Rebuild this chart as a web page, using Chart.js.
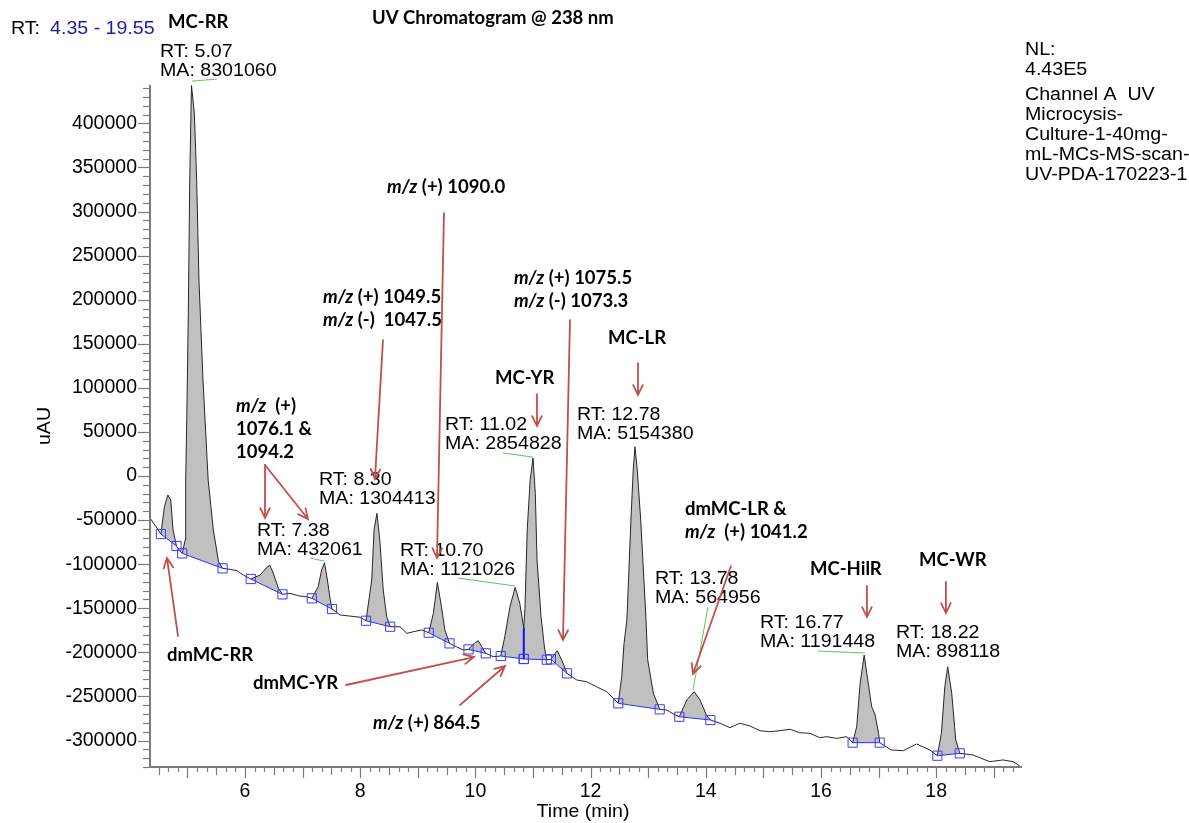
<!DOCTYPE html>
<html>
<head>
<meta charset="utf-8">
<title>UV Chromatogram @ 238 nm</title>
<script src="https://cdn.jsdelivr.net/npm/chart.js@4.4.1/dist/chart.umd.min.js"></script>
<style>
  html, body { margin: 0; padding: 0; background: #fff; }
  #wrap { width: 1189px; height: 823px; position: relative; }
</style>
</head>
<body>
<div id="wrap"><canvas id="chromChart"></canvas></div>
<script>
// UV trace (time in min, signal in uAU)
const timeMin = [4.35, 4.45, 4.54, 4.60, 4.66, 4.71, 4.75, 4.81, 4.86, 4.91,
  4.96, 4.97, 4.99, 5.015, 5.04, 5.07, 5.12, 5.16, 5.20, 5.27,
  5.36, 5.45, 5.54, 5.61, 5.74, 5.86, 5.97, 6.10, 6.26, 6.38,
  6.43, 6.49, 6.58, 6.65, 6.78, 6.95, 7.07, 7.16, 7.27, 7.33,
  7.38, 7.43, 7.48, 7.51, 7.65, 7.82, 8.00, 8.10, 8.20, 8.24,
  8.29, 8.34, 8.40, 8.46, 8.52, 8.69, 8.81, 8.92, 9.07, 9.19,
  9.27, 9.34, 9.41, 9.47, 9.55, 9.67, 9.79, 9.88, 9.99, 10.05,
  10.11, 10.18, 10.31, 10.44, 10.51, 10.60, 10.69, 10.77, 10.84, 10.86,
  10.90, 10.95, 11.00, 11.04, 11.07, 11.14, 11.20, 11.24, 11.31, 11.42,
  11.50, 11.59, 11.76, 11.93, 12.10, 12.28, 12.48, 12.54, 12.58, 12.63,
  12.70, 12.74, 12.77, 12.81, 12.87, 12.96, 12.99, 13.09, 13.20, 13.32,
  13.44, 13.54, 13.67, 13.80, 13.90, 14.01, 14.08, 14.25, 14.42, 14.59,
  14.77, 14.94, 15.11, 15.29, 15.46, 15.63, 15.81, 15.98, 16.10, 16.27,
  16.45, 16.55, 16.62, 16.68, 16.75, 16.82, 16.88, 16.94, 17.00, 17.02,
  17.22, 17.43, 17.66, 17.89, 18.02, 18.09, 18.15, 18.20, 18.27, 18.34,
  18.41, 18.64, 18.93, 19.16, 19.34, 19.48];
const signal = [-47600, -57000, -65800, -34800, -21500, -27200, -61200, -79400, -84000, -87700,
  -72600, -4500, 71100, 184800, 335700, 443000, 411600, 335700, 222300, 108900,
  -4500, -61200, -97200, -104700, -105800, -107400, -112300, -116800, -112300, -103500,
  -101000, -110300, -127400, -134200, -133000, -136100, -136900, -138700, -125500, -106600,
  -98300, -117900, -140600, -150800, -157600, -158800, -160200, -164100, -117900, -61200,
  -42300, -72600, -129300, -159600, -170900, -170900, -178400, -176600, -174600, -177700,
  -155700, -120600, -148200, -174600, -189800, -193600, -197300, -196600, -189000, -186800,
  -193600, -201100, -204900, -204100, -182200, -148200, -126200, -144400, -172400, -150000,
  -60000, -5000, 20500, -20000, -95000, -160000, -195000, -208300, -207900, -198100,
  -208700, -223800, -231300, -233300, -238900, -244600, -257800, -227600, -190000, -163300,
  -49900, 6800, 33200, 6800, -49900, -160000, -208000, -246400, -264600, -265400,
  -269900, -273000, -254000, -244600, -254000, -271000, -276700, -280400, -285400, -280400,
  -283500, -288800, -290000, -288800, -287200, -291100, -291800, -296800, -295600, -297500,
  -295600, -302400, -284300, -235100, -203000, -235100, -261600, -271000, -291800, -302400,
  -310700, -311500, -303900, -310700, -317200, -291800, -239000, -216300, -246400, -299400,
  -314500, -316400, -324000, -322000, -324000, -330300];

// integration baselines (start / end of each integrated peak)
const baseStartMin = [4.54, 4.91, 6.10, 7.16, 8.10, 9.19, 9.88, 10.44, 10.84, 11.31, 12.48, 13.54, 16.55, 18.02];
const baseStartY = [-65800, -87700, -116800, -138700, -164100, -177700, -196600, -204100, -207500, -207900, -257800, -273000, -302400, -317200];
const baseEndMin = [4.81, 5.61, 6.65, 7.51, 8.52, 9.55, 10.18, 10.84, 11.24, 11.59, 13.20, 14.08, 17.02, 18.41];
const baseEndY = [-79400, -104700, -134200, -150800, -170900, -189800, -201100, -207500, -208300, -223800, -264600, -276700, -302400, -314500];

// drop line between the 10.70 and 11.02 peaks
const dropMin = [10.84, 10.84];
const dropY = [-207500, -172400];

const xTicks = [6, 8, 10, 12, 14, 16, 18];
const yTicks = [-300000, -250000, -200000, -150000, -100000, -50000, 0,
  50000, 100000, 150000, 200000, 250000, 300000, 350000, 400000];

// peak labels
const peakRT = ['5.07', '7.38', '8.30', '10.70', '11.02', '12.78', '13.78', '16.77', '18.22'];
const peakMA = ['8301060', '432061', '1304413', '1121026', '2854828', '5154380', '564956', '1191448', '898118'];

const compoundNames = ['MC-RR', 'MC-YR', 'MC-LR', 'MC-HilR', 'MC-WR', 'dmMC-RR', 'dmMC-YR'];
const massNotes = [
  ['*m/z* (+) 1090.0'],
  ['*m/z* (+) 1049.5', '*m/z* (-)  1047.5'],
  ['*m/z* (+) 1075.5', '*m/z* (-) 1073.3'],
  ['*m/z*  (+)', '1076.1 &', '1094.2'],
  ['dmMC-LR &', '*m/z*  (+) 1041.2'],
  ['*m/z* (+) 864.5']
];

// where the labels sit (time, uAU)
const peakLabelAt = [[4.524, 480800], [6.208, -62400], [7.284, -4500], [8.69, -85100], [9.472, 57800],
  [11.763, 69200], [13.117, -116800], [14.941, -166700], [17.302, -178000]];
const nameAt = [[4.663, 514800], [10.339, 111100], [12.301, 156500], [15.808, -105500], [17.701, -95300],
  [4.645, -203000], [6.138, -234700]];
const noteAt = [[8.465, 327700], [7.353, 203000], [10.669, 224500], [5.843, 79400], [13.638, -37400], [8.222, -280100]];
const noteLineGap = 23 * 1134;

const arrows = [
  [9.454, 298200, 9.333, -93000],
  [8.395, 154200, 8.256, -3400],
  [11.642, 176900, 11.52, -186000],
  [11.069, 93000, 11.069, 56700],
  [12.822, 128100, 12.822, 91900],
  [6.347, 12500, 6.347, -47600],
  [6.347, 12500, 7.093, -48800],
  [14.437, -102100, 13.777, -224500],
  [16.798, -124700, 16.798, -159900],
  [18.169, -120200, 18.169, -155400],
  [4.836, -181400, 4.645, -93000],
  [7.753, -237000, 9.975, -205300],
  [9.732, -259700, 10.513, -215500]
];
const leaders = [
  [5.079, 447900, 5.513, 450200],
  [7.128, -93000, 7.371, -96400],
  [9.697, -115700, 10.687, -124700],
  [10.478, 26100, 10.999, 21500],
  [14.038, -148600, 13.777, -242700],
  [15.947, -198500, 16.763, -200700]
];

const SANS = '"Liberation Sans", Arial, sans-serif';
const BOLD = 'Lato, "Open Sans", sans-serif';

function pts(xs, ys) { return xs.map((v, i) => ({x: v, y: ys[i]})); }

function say(ctx, str, px, py, size, color, align, sx) {
  ctx.save();
  ctx.font = size + 'px ' + SANS;
  ctx.fillStyle = color || '#000';
  ctx.textBaseline = 'middle';
  const w = ctx.measureText(str).width * (sx || 1.12);
  let left = px;
  if (align === 'center') left = px - w / 2;
  ctx.translate(left, py);
  ctx.scale(sx || 1.12, 1);
  ctx.fillText(str, 0, 0);
  ctx.restore();
  return w;
}

function sayBold(ctx, str, px, py) {
  const parts = str.split('*');
  let cx = px;
  ctx.save();
  ctx.fillStyle = '#000';
  ctx.textBaseline = 'middle';
  parts.forEach((p, i) => {
    if (!p) return;
    ctx.font = (i % 2 ? 'italic bold ' : 'bold ') + '18.5px ' + BOLD;
    ctx.fillText(p, cx, py);
    cx += ctx.measureText(p).width;
  });
  ctx.restore();
}

function arrow(ctx, x1, y1, x2, y2) {
  const ang = Math.atan2(y2 - y1, x2 - x1);
  const len = 11, spread = 0.45;
  ctx.beginPath();
  ctx.moveTo(x1, y1);
  ctx.lineTo(x2, y2);
  ctx.moveTo(x2 - len * Math.cos(ang - spread), y2 - len * Math.sin(ang - spread));
  ctx.lineTo(x2, y2);
  ctx.lineTo(x2 - len * Math.cos(ang + spread), y2 - len * Math.sin(ang + spread));
  ctx.stroke();
}

const annotate = {
  id: 'annotate',
  afterDraw(chart) {
    const {ctx, chartArea: a} = chart;
    const xs = chart.scales.x, ys = chart.scales.y;
    const X = v => xs.getPixelForValue(v), Y = v => ys.getPixelForValue(v);
    ctx.save();

    // axes and tick marks
    ctx.strokeStyle = '#7a7a7a';
    ctx.lineWidth = 2;
    ctx.beginPath();
    ctx.moveTo(a.left, a.top);
    ctx.lineTo(a.left, a.bottom);
    ctx.lineTo(a.right, a.bottom);
    ctx.stroke();
    ctx.lineWidth = 1.2;
    for (let v = -330000; v <= 440000; v += 10000) {
      const py = Math.round(Y(v)) + 0.5;
      const len = v % 50000 === 0 ? 12 : 7;
      ctx.beginPath(); ctx.moveTo(a.left - len, py); ctx.lineTo(a.left, py); ctx.stroke();
    }
    for (let k = Math.ceil(xs.min * 6); k <= Math.floor(xs.max * 6); k++) {
      const px = Math.round(X(k / 6)) + 0.5;
      const len = k % 6 === 0 ? 11 : (k % 3 === 0 ? 8 : 5);
      ctx.beginPath(); ctx.moveTo(px, a.bottom); ctx.lineTo(px, a.bottom + len); ctx.stroke();
    }

    // axis titles
    say(ctx, 'Time (min)', 583, 812, 17.5, '#000', 'center');
    ctx.save();
    ctx.translate(45, (a.top + a.bottom) / 2);
    ctx.rotate(-Math.PI / 2);
    say(ctx, 'uAU', 0, 0, 17.5, '#000', 'center');
    ctx.restore();

    // header
    const w = say(ctx, 'RT:', 11, 29, 17.5, '#000');
    say(ctx, '4.35 - 19.55', 11 + w + 10, 29, 17.5, '#1c1ca8');
    sayBold(ctx, 'UV Chromatogram @ 238 nm', 372, 18);
    const nl = ['NL:', '4.43E5', 'Channel A  UV', 'Microcysis-', 'Culture-1-40mg-', 'mL-MCs-MS-scan-', 'UV-PDA-170223-1'];
    const nlY = [50, 70, 95, 115, 135, 155, 175];
    nl.forEach((s, i) => say(ctx, s, 1025, nlY[i], 17.5, '#000'));

    // green leader lines
    ctx.strokeStyle = '#5cc75c';
    ctx.lineWidth = 1;
    leaders.forEach(l => {
      ctx.beginPath(); ctx.moveTo(X(l[0]), Y(l[1])); ctx.lineTo(X(l[2]), Y(l[3])); ctx.stroke();
    });

    // peak labels
    peakRT.forEach((rt, i) => {
      const p = peakLabelAt[i];
      say(ctx, 'RT: ' + rt, X(p[0]), Y(p[1]), 17.5, '#000');
      say(ctx, 'MA: ' + peakMA[i], X(p[0]), Y(p[1] - 19 * 1134), 17.5, '#000');
    });

    // compound names and m/z notes
    compoundNames.forEach((n, i) => sayBold(ctx, n, X(nameAt[i][0]), Y(nameAt[i][1])));
    massNotes.forEach((lines, i) => {
      lines.forEach((s, j) => sayBold(ctx, s, X(noteAt[i][0]), Y(noteAt[i][1] - j * noteLineGap)));
    });

    // red arrows
    ctx.strokeStyle = '#c0504d';
    ctx.lineWidth = 1.8;
    ctx.lineCap = 'round';
    arrows.forEach(r => arrow(ctx, X(r[0]), Y(r[1]), X(r[2]), Y(r[3])));

    ctx.restore();
  }
};

const trace = pts(timeMin, signal);
const datasets = [];
baseStartMin.forEach((s, i) => {
  datasets.push({
    data: [{x: s, y: baseStartY[i]}, {x: baseEndMin[i], y: baseEndY[i]}],
    borderColor: '#2b2bff',
    borderWidth: 1,
    pointStyle: 'rect',
    pointRadius: 6.5,
    pointBorderColor: '#3a3aff',
    pointBorderWidth: 1,
    pointBackgroundColor: 'rgba(0,0,0,0)',
    fill: false,
    order: 0
  });
});
datasets.push({
  data: pts(dropMin, dropY),
  borderColor: '#1010ff',
  borderWidth: 2,
  pointRadius: 0,
  fill: false,
  order: 0
});
datasets.push({
  data: trace,
  borderColor: '#262626',
  borderWidth: 1,
  pointRadius: 0,
  fill: false,
  order: 1
});
baseStartMin.forEach((s, i) => {
  datasets.push({
    data: trace.filter(p => p.x >= s && p.x <= baseEndMin[i]),
    borderColor: 'rgba(0,0,0,0)',
    backgroundColor: '#c0c0c0',
    pointRadius: 0,
    fill: {target: i},
    order: 2
  });
});

new Chart(document.getElementById('chromChart'), {
  type: 'line',
  data: {datasets: datasets},
  plugins: [annotate],
  options: {
    responsive: true,
    maintainAspectRatio: false,
    animation: false,
    events: [],
    layout: {padding: {top: 85, right: 167, left: 0, bottom: 0}},
    plugins: {
      legend: {display: false},
      tooltip: {enabled: false}
    },
    scales: {
      x: {
        type: 'linear',
        min: 4.35,
        max: 19.49,
        grid: {display: false, drawTicks: false},
        border: {display: false},
        ticks: {
          font: {family: SANS, size: 19.5},
          color: '#000',
          padding: 13,
          maxRotation: 0,
          autoSkip: false,
          callback: v => String(v)
        },
        afterBuildTicks: s => { s.ticks = xTicks.map(v => ({value: v})); },
        afterFit: s => { s.height = 56; }
      },
      y: {
        type: 'linear',
        min: -330000,
        max: 443500,
        grid: {display: false, drawTicks: false},
        border: {display: false},
        ticks: {
          font: {family: SANS, size: 19.5},
          color: '#000',
          padding: 13,
          autoSkip: false,
          callback: v => String(v)
        },
        afterBuildTicks: s => { s.ticks = yTicks.map(v => ({value: v})); },
        afterFit: s => { s.width = 150; }
      }
    }
  }
});
</script>
</body>
</html>
